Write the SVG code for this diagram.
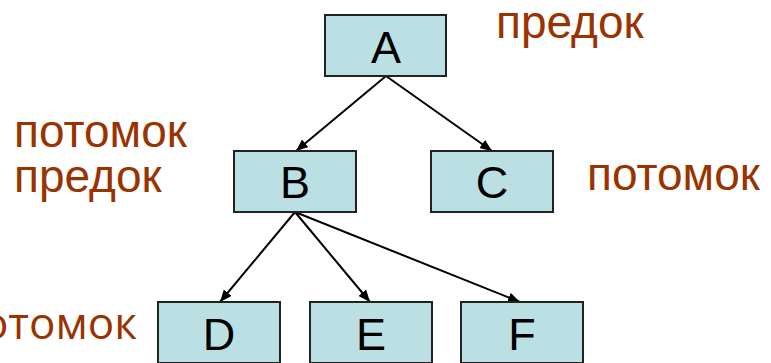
<svg xmlns="http://www.w3.org/2000/svg" width="771" height="363" viewBox="0 0 771 363">
<style>
.box{fill:#BBE0E3;stroke:#222;stroke-width:2}
.lt{font-family:"Liberation Sans",Arial,sans-serif;font-size:45px;fill:#000;text-anchor:middle}
.lab{font-family:"Liberation Sans",Arial,sans-serif;font-size:46px;fill:#993300}
.lab2{font-family:"Open Sans","Noto Sans",sans-serif;font-size:44px;fill:#993300;text-anchor:end}
.edge{stroke:#000;stroke-width:2;fill:none;marker-end:url(#ah)}
</style>
<defs>
<marker id="ah" viewBox="0 0 12 10" refX="12" refY="5" markerWidth="12" markerHeight="10" markerUnits="userSpaceOnUse" orient="auto">
<path d="M0,0 L12,5 L0,10 Z" fill="#000"/>
</marker>
</defs>
<rect width="771" height="363" fill="#fff"/>
<g id="connectors">
<line class="edge" x1="386" y1="76" x2="296" y2="151"/>
<line class="edge" x1="386" y1="76" x2="492" y2="151"/>
<line class="edge" x1="295" y1="212" x2="220" y2="302"/>
<line class="edge" x1="295" y1="212" x2="370" y2="302"/>
<line class="edge" x1="295" y1="212" x2="520" y2="302"/>
</g>
<g id="nodeA"><rect class="box" x="325" y="15" width="121" height="61"/><text class="lt" x="386" y="63">A</text></g>
<g id="nodeB"><rect class="box" x="234" y="151" width="122" height="61"/><text class="lt" x="295" y="198">B</text></g>
<g id="nodeC"><rect class="box" x="431" y="151" width="122" height="61"/><text class="lt" x="492" y="198">C</text></g>
<g id="nodeD"><rect class="box" x="158" y="302" width="122" height="61"/><text class="lt" x="219" y="350">D</text></g>
<g id="nodeE"><rect class="box" x="310" y="302" width="122" height="61"/><text class="lt" x="371" y="350">E</text></g>
<g id="nodeF"><rect class="box" x="461" y="302" width="122" height="61"/><text class="lt" x="522" y="350">F</text></g>
<g id="labels">
<text class="lab" x="496" y="38">предок</text>
<text class="lab" x="14" y="147">потомок</text>
<text class="lab" x="14" y="192">предок</text>
<text class="lab" x="587" y="190">потомок</text>
<text class="lab2" x="137" y="339">потомок</text>
</g>
</svg>
